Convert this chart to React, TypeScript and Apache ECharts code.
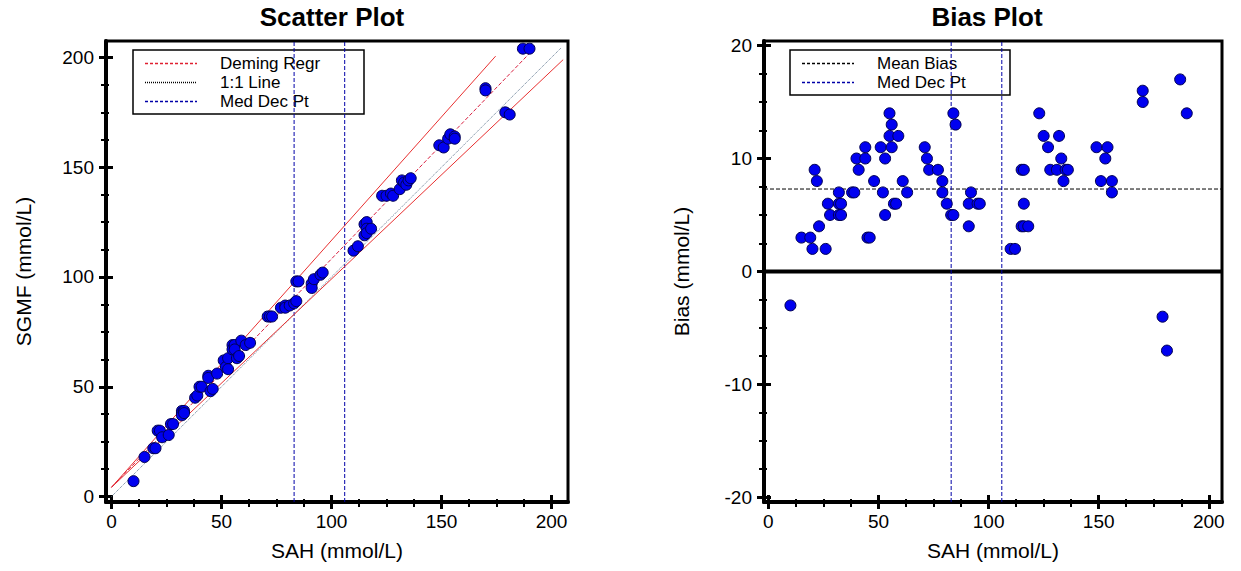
import React, { useEffect, useRef } from "react";
import * as echarts from "echarts";

// ---- data ----
const sah = [
  10, 15, 19, 20, 21, 22, 23, 26, 27, 28, 32, 32, 32, 33, 33, 38, 39, 40, 41, 44,
  44, 45, 46, 48, 51, 52, 53, 53, 55, 55, 56, 56, 57, 58, 59, 61, 63, 71, 72, 73,
  77, 79, 79, 81, 83, 84, 84, 85, 91, 91, 92, 95, 96, 110, 112, 115, 116, 116, 115, 116,
  118, 123, 125, 127, 128, 131, 132, 133, 134, 135, 136, 149, 151, 153, 154, 156, 156, 170, 170, 179,
  181, 187, 190,
];
const bias = [
  -3, 3, 3, 2, 9, 8, 4, 2, 6, 5, 7, 6, 5, 6, 5, 7, 7, 10, 9, 11,
  10, 3, 3, 8, 11, 7, 10, 5, 14, 12, 13, 11, 6, 6, 12, 8, 7, 11, 10, 9,
  9, 8, 7, 6, 5, 5, 14, 13, 6, 4, 7, 6, 6, 2, 2, 9, 9, 6, 4, 4,
  4, 14, 12, 11, 9, 9, 12, 10, 8, 9, 9, 11, 8, 10, 11, 8, 7, 16, 15, -4,
  -7, 17, 14,
];
const sgmf = [
  7, 18, 22, 22, 30, 30, 27, 28, 33, 33, 39, 38, 37, 39, 38, 45, 46, 50, 50, 55,
  54, 48, 49, 56, 62, 59, 63, 58, 69, 67, 69, 67, 63, 64, 71, 69, 70, 82, 82, 82,
  86, 87, 86, 87, 88, 89, 98, 98, 97, 95, 99, 101, 102, 112, 114, 124, 125, 122, 119, 120,
  122, 137, 137, 138, 137, 140, 144, 143, 142, 144, 145, 160, 159, 163, 165, 164, 163, 186, 185, 175,
  174, 204, 204,
];
const medDecPts = [83, 106];
const meanBias = 7.3;
const demingLine = [[0, 4.2], [193, 205]];
const upperLimit = [[0, 4.2], [174.6, 200.6]];
const lowerLimit = [[0, 4.2], [205.3, 199]];
const identityLine = [[0, 0], [204.5, 204.5]];

const scatterMajor = [0, 50, 100, 150, 200];
const scatterMinor = [12.5, 25, 37.5, 62.5, 75, 87.5, 112.5, 125, 137.5, 162.5, 175, 187.5];
const biasXMajor = [0, 50, 100, 150, 200];
const biasXMinor = [12.5, 25, 37.5, 62.5, 75, 87.5, 112.5, 125, 137.5, 162.5, 175, 187.5];
const biasYMajor = [-20, -10, 0, 10, 20];
const biasYMinor = [-17.5, -15, -12.5, -7.5, -5, -2.5, 2.5, 5, 7.5, 12.5, 15, 17.5];

const scatterRange = [-2.5, 207.5];
const biasXRange = [-2, 206];
const biasYRange = [-20.4, 20.4];

const FONT = "'Liberation Sans', Arial, sans-serif";

function axisSet(
  dim: "x" | "y",
  gridIndex: number,
  range: number[],
  major: number[],
  minor: number[],
  name: string,
  nameGap: number
) {
  const position = dim === "x" ? "bottom" : "left";
  const base = {
    type: "value",
    gridIndex,
    min: range[0],
    max: range[1],
    position,
    offset: 0,
    splitLine: { show: false },
  };
  const hiddenLine = { show: false, onZero: false };
  return [
    {
      ...base,
      name,
      nameLocation: "middle",
      nameGap,
      nameTextStyle: { fontSize: 21, color: "#000", fontFamily: FONT },
      axisLine: { show: true, onZero: false, lineStyle: { color: "#000", width: 4 } },
      axisTick: { show: true, inside: false, customValues: major, length: 7, lineStyle: { color: "#000", width: 3 } },
      axisLabel: { show: true, customValues: major, margin: dim === "x" ? 10 : 12, fontSize: 19, color: "#000", fontFamily: FONT },
    },
    {
      ...base,
      axisLine: hiddenLine,
      axisTick: { show: true, inside: true, customValues: major, length: 7, lineStyle: { color: "#000", width: 3 } },
      axisLabel: { show: false },
    },
    {
      ...base,
      axisLine: hiddenLine,
      axisTick: { show: true, inside: false, customValues: minor, length: 5, lineStyle: { color: "#000", width: 2 } },
      axisLabel: { show: false },
    },
    {
      ...base,
      axisLine: hiddenLine,
      axisTick: { show: true, inside: true, customValues: minor, length: 3, lineStyle: { color: "#000", width: 2 } },
      axisLabel: { show: false },
    },
  ];
}

function lineSeries(data: number[][], xi: number, yi: number, color: string, type: string, width: number, z = 2) {
  return {
    type: "line",
    xAxisIndex: xi,
    yAxisIndex: yi,
    data,
    showSymbol: false,
    symbol: "none",
    silent: true,
    z,
    lineStyle: { color, type, width, opacity: 1 },
  };
}

function legendBox(id: string, x: number, y: number, w: number, h: number, items: { label: string; color: string; dash: number[] }[]) {
  const children: any[] = [
    { type: "rect", id: id + "-box", shape: { x, y, width: w, height: h }, style: { fill: "#fff", stroke: "#000", lineWidth: 1.5 } },
  ];
  items.forEach((it, i) => {
    const cy = y + 13.5 + i * 19;
    children.push({
      type: "line",
      id: `${id}-line-${i}`,
      shape: { x1: x + 12, y1: cy, x2: x + 64, y2: cy },
      style: { stroke: it.color, fill: null, lineWidth: 1.3, lineDash: it.dash },
    });
    children.push({
      type: "text",
      id: `${id}-text-${i}`,
      x: x + 87,
      y: cy,
      style: { text: it.label, font: `17px ${FONT}`, fill: "#000", textAlign: "left", textVerticalAlign: "middle", align: "left", verticalAlign: "middle" },
    });
  });
  return { type: "group", id, children };
}

export default function App() {
  const ref = useRef<HTMLDivElement>(null);
  useEffect(() => {
    if (!ref.current) return;
    const chart = echarts.init(ref.current, null, { renderer: "svg" });

    const xAxes = [
      ...axisSet("x", 0, scatterRange, scatterMajor, scatterMinor, "SAH (mmol/L)", 38),
      ...axisSet("x", 1, biasXRange, biasXMajor, biasXMinor, "SAH (mmol/L)", 38),
    ];
    const yAxes = [
      ...axisSet("y", 0, scatterRange, scatterMajor, scatterMinor, "SGMF (mmol/L)", 72),
      ...axisSet("y", 1, biasYRange, biasYMajor, biasYMinor, "Bias (mmol/L)", 72),
    ];

    const pointStyle = { color: "#0000f0", borderColor: "#000050", borderWidth: 1, opacity: 1 };

    const option: any = {
      animation: false,
      backgroundColor: "#fff",
      grid: [
        { left: 106, top: 41, width: 462, height: 461, show: true, borderColor: "#000", borderWidth: 3, backgroundColor: "transparent" },
        { left: 764, top: 41, width: 458, height: 461, show: true, borderColor: "#000", borderWidth: 3, backgroundColor: "transparent" },
      ],
      xAxis: xAxes,
      yAxis: yAxes,
      series: [
        // scatter plot
        ...medDecPts.map((v) => lineSeries([[v, scatterRange[0]], [v, scatterRange[1]]], 0, 0, "#0000a8", "dashed", 1)),
        lineSeries(identityLine, 0, 0, "#607890", "dotted", 1),
        lineSeries(upperLimit, 0, 0, "#e83030", "solid", 1),
        lineSeries(lowerLimit, 0, 0, "#e83030", "solid", 1),
        lineSeries(demingLine, 0, 0, "#d82040", "dashed", 1),
        {
          type: "scatter",
          xAxisIndex: 0,
          yAxisIndex: 0,
          data: sah.map((x, i) => [x, sgmf[i]]),
          symbolSize: 11,
          itemStyle: pointStyle,
          z: 5,
        },
        // bias plot
        lineSeries([[biasXRange[0], 0], [biasXRange[1], 0]], 4, 4, "#000", "solid", 4),
        lineSeries([[biasXRange[0], meanBias], [biasXRange[1], meanBias]], 4, 4, "#000", "dashed", 1),
        ...medDecPts.map((v) => lineSeries([[v, biasYRange[0]], [v, biasYRange[1]]], 4, 4, "#0000a8", "dashed", 1)),
        {
          type: "scatter",
          xAxisIndex: 4,
          yAxisIndex: 4,
          data: sah.map((x, i) => [x, bias[i]]),
          symbolSize: 11,
          itemStyle: pointStyle,
          z: 5,
        },
      ],
      graphic: [
        {
          type: "text",
          id: "title-left",
          x: 332,
          y: 17,
          style: { text: "Scatter Plot", font: `bold 26px ${FONT}`, fill: "#000", textAlign: "center", textVerticalAlign: "middle", align: "center", verticalAlign: "middle" },
        },
        {
          type: "text",
          id: "title-right",
          x: 987,
          y: 17,
          style: { text: "Bias Plot", font: `bold 26px ${FONT}`, fill: "#000", textAlign: "center", textVerticalAlign: "middle", align: "center", verticalAlign: "middle" },
        },
        legendBox("legend-left", 133, 50, 231, 64, [
          { label: "Deming Regr", color: "#e02030", dash: [3, 2] },
          { label: "1:1 Line", color: "#000000", dash: [1, 1] },
          { label: "Med Dec Pt", color: "#0000a8", dash: [3, 2] },
        ]),
        legendBox("legend-right", 790, 50, 220, 45, [
          { label: "Mean Bias", color: "#000000", dash: [3, 2] },
          { label: "Med Dec Pt", color: "#0000a8", dash: [3, 2] },
        ]),
      ],
    };
    chart.setOption(option);
    return () => chart.dispose();
  }, []);
  return <div ref={ref} style={{ position: "absolute", left: 0, top: 0, width: 1241, height: 571 }} />;
}
